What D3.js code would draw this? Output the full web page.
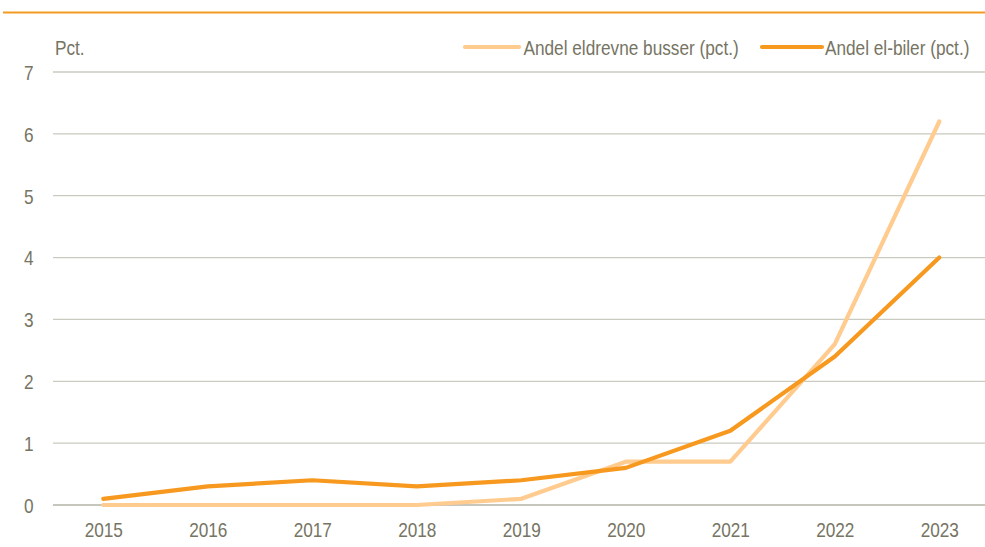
<!DOCTYPE html>
<html><head><meta charset="utf-8">
<script src="https://cdn.jsdelivr.net/npm/d3@7/dist/d3.min.js"></script>
<style>body{margin:0;background:#fff}svg{display:block;font-family:"Liberation Sans",Arial,sans-serif}</style>
</head><body><svg id="c" width="985" height="547"></svg>
<script>
const years = ["2015","2016","2017","2018","2019","2020","2021","2022","2023"];
const busser = [0,0,0,0,0.1,0.7,0.7,2.6,6.2];
const elbiler = [0.1,0.3,0.4,0.3,0.4,0.6,1.2,2.4,4.0];
const yTicks = [0,1,2,3,4,5,6,7];
const seriesNames = ["Andel eldrevne busser (pct.)","Andel el-biler (pct.)"];
const colors = ["#FFCB8E","#F7981F"];
const textCol = "#767463";
const SX = "scale(0.82,1)";

const svg = d3.select("#c");
svg.append("line").attr("x1",3).attr("x2",985).attr("y1",12.5).attr("y2",12.5)
  .attr("stroke","#F39A22").attr("stroke-width",2);

const x = d3.scalePoint().domain(years).range([103.3,939.3]);
const y = d3.scaleLinear().domain([0,7]).range([505,72]);

const grid = svg.append("g");
grid.selectAll("line").data(yTicks).join("line")
  .attr("x1",53).attr("x2",985).attr("y1",d=>y(d)).attr("y2",d=>y(d))
  .attr("stroke",d=>d===0?"#B5B3A6":"#CACAC0").attr("stroke-width",1.3);

const yAxis = d3.axisLeft(y).tickValues(yTicks).tickFormat(d3.format("d")).tickSize(0).tickPadding(0);
svg.append("g").attr("transform","translate(33.5,0)").call(yAxis)
  .call(g=>g.select(".domain").remove())
  .call(g=>g.selectAll("text").attr("fill",textCol).attr("font-size",21).attr("font-family","Liberation Sans, Arial").attr("dy","0.35em").attr("transform",SX));

const xAxis = d3.axisBottom(x).tickSize(0).tickPadding(0);
svg.append("g").attr("transform","translate(0,522)").call(xAxis)
  .call(g=>g.select(".domain").remove())
  .call(g=>g.selectAll("text").attr("fill",textCol).attr("font-size",21).attr("font-family","Liberation Sans, Arial").attr("transform",SX));

svg.append("g").attr("transform","translate(55,55)").append("text")
  .attr("transform",SX).attr("fill",textCol).attr("font-size",21).text("Pct.");

const line = d3.line().x((d,i)=>x(years[i])).y(d=>y(d));
[busser,elbiler].forEach((s,k)=>{
  svg.append("path").datum(s).attr("d",line).attr("fill","none")
    .attr("stroke",colors[k]).attr("stroke-width",4.2)
    .attr("stroke-linecap","round").attr("stroke-linejoin","round");
});

const leg = [{x1:465,x2:519,tx:523.5},{x1:762,x2:822,tx:825}];
leg.forEach((l,k)=>{
  svg.append("line").attr("x1",l.x1).attr("x2",l.x2).attr("y1",47).attr("y2",47)
    .attr("stroke",colors[k]).attr("stroke-width",4.2).attr("stroke-linecap","round");
  svg.append("g").attr("transform",`translate(${l.tx},55)`).append("text")
    .attr("transform",SX).attr("fill",textCol).attr("font-size",21).text(seriesNames[k]);
});
</script></body></html>
